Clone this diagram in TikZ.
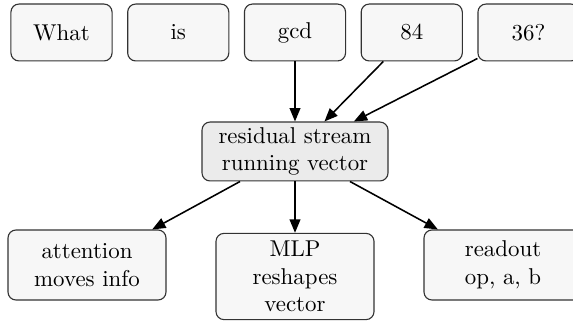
\documentclass[tikz,border=0pt]{standalone}
\usetikzlibrary{arrows.meta}
\definecolor{boxfill}{HTML}{F7F7F7}
\definecolor{hubfill}{HTML}{EBEBEB}
\definecolor{boxline}{HTML}{333333}
\begin{document}
\begin{tikzpicture}[x=0.45pt,y=-0.45pt,
  token/.style={draw=boxline, line width=0.5pt, fill=boxfill, rounded corners=3.6pt, minimum width=45.5pt, minimum height=25.6pt, align=center, font=\fontsize{10.3}{12.5}\selectfont},
  hub/.style={token, fill=hubfill, minimum width=83.7pt, minimum height=26.5pt, inner sep=2pt},
  part/.style={token, minimum width=71.1pt, minimum height=31.5pt},
  arr/.style={-{Triangle[length=6pt,width=4.8pt]}, line width=0.7pt}]
\useasboundingbox (0,0) rectangle (573,325);
\node[token] (what) at (61.5,32.5) {What};
\node[token] (is) at (178.25,32.5) {is};
\node[token] (gcd) at (295,32.5) {gcd};
\node[token] (n84) at (411.75,32.5) {84};
\node[token] (n36) at (528.5,32.5) {36?};
\node[hub] (res) at (295,151.5) {residual stream\\running vector};
\node[part] (att) at (87,265) {attention\\moves info};
\node[part] (mlp) at (295,276.5) {MLP\\reshapes\\vector};
\node[part] (read) at (503,265) {readout\\op, a, b};
\draw[arr] (gcd) -- (res);
\draw[arr] (n84) -- (res);
\draw[arr] (n36) -- (res);
\draw[arr] (res) -- (att);
\draw[arr] (res) -- (mlp);
\draw[arr] (res) -- (read);
\end{tikzpicture}
\end{document}
